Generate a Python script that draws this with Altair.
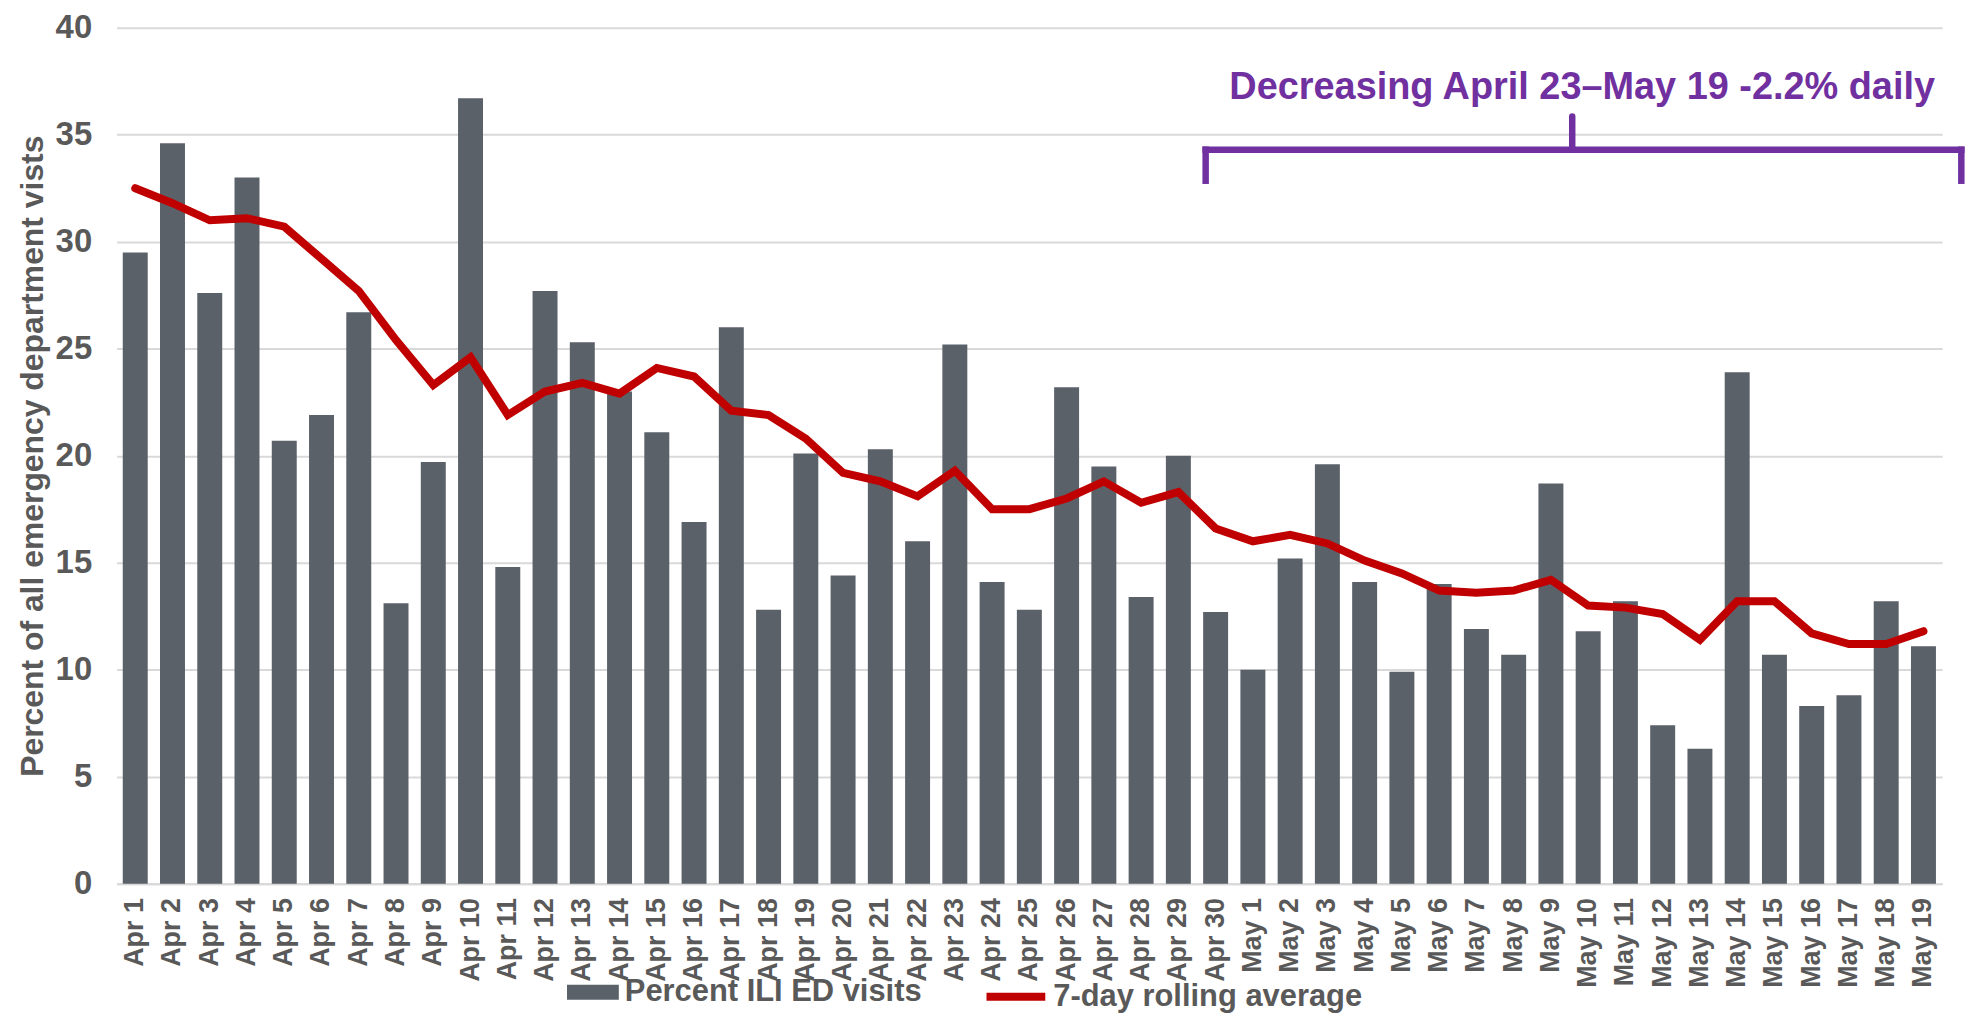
import altair as alt
import pandas as pd

dates = ["Apr 1", "Apr 2", "Apr 3", "Apr 4", "Apr 5", "Apr 6", "Apr 7", "Apr 8", "Apr 9", "Apr 10",
         "Apr 11", "Apr 12", "Apr 13", "Apr 14", "Apr 15", "Apr 16", "Apr 17", "Apr 18", "Apr 19", "Apr 20",
         "Apr 21", "Apr 22", "Apr 23", "Apr 24", "Apr 25", "Apr 26", "Apr 27", "Apr 28", "Apr 29", "Apr 30",
         "May 1", "May 2", "May 3", "May 4", "May 5", "May 6", "May 7", "May 8", "May 9", "May 10",
         "May 11", "May 12", "May 13", "May 14", "May 15", "May 16", "May 17", "May 18", "May 19"]

ili_pct = [29.5, 34.6, 27.6, 33.0, 20.7, 21.9, 26.7, 13.1, 19.7, 36.7,
           14.8, 27.7, 25.3, 23.0, 21.1, 16.9, 26.0, 12.8, 20.1, 14.4,
           20.3, 16.0, 25.2, 14.1, 12.8, 23.2, 19.5, 13.4, 20.0, 12.7,
           10.0, 15.2, 19.6, 14.1, 9.9, 14.0, 11.9, 10.7, 18.7, 11.8,
           13.2, 7.4, 6.3, 23.9, 10.7, 8.3, 8.8, 13.2, 11.1]

rolling_avg = [32.5, 31.8, 31.0, 31.1, 30.7, 29.2, 27.7, 25.4, 23.3, 24.6,
               21.9, 23.0, 23.4, 22.9, 24.1, 23.7, 22.1, 21.9, 20.8, 19.2,
               18.8, 18.1, 19.3, 17.5, 17.5, 18.0, 18.8, 17.8, 18.3, 16.6,
               16.0, 16.3, 15.9, 15.1, 14.5, 13.7, 13.6, 13.7, 14.2, 13.0,
               12.9, 12.6, 11.4, 13.2, 13.2, 11.7, 11.2, 11.2, 11.8]

bar_label = "Percent ILI ED visits"
line_label = "7-day rolling average"

annot_text = ["Decreasing April 23\u2013May 19 -2.2% daily"]
bracket_start = ["Apr 30"]
bracket_end = ["May 19"]
bracket_mid = ["May 10"]
bracket_y = [34.3]
tick_low = [32.85]
tick_high = [35.85]
label_y = [36.66]

FONT = "Liberation Sans"
TXT = "#595959"
BAR = "#5B6169"
RED = "#C00000"
PURPLE = "#7030A0"
GRID = "#D9D9D9"
YTITLE = "Percent of all emergency department vists"

df = pd.DataFrame({"date": dates, "ili": ili_pct, "avg": rolling_avg,
                   "s_bar": [bar_label] * len(dates), "s_line": [line_label] * len(dates)})

y_scale = alt.Scale(domain=[0, 40], nice=False)
x_scale = alt.Scale(domain=dates, paddingInner=0.33, paddingOuter=0.165)

x_axis = alt.Axis(title=None, labelAngle=270, labelFont=FONT, labelFontSize=27, labelFontWeight="bold",
                  labelColor=TXT, labelPadding=14, ticks=False, tickSize=0, domainColor=GRID,
                  domainWidth=2, labelOverlap=False)


def xcat(field, axis=None):
    if axis is None:
        return alt.X(f"{field}:N", scale=x_scale, title=None)
    return alt.X(f"{field}:N", scale=x_scale, title=None, axis=axis)


y_axis = alt.Axis(title=YTITLE, values=[0, 5, 10, 15, 20, 25, 30, 35, 40], grid=True, gridColor=GRID,
                  gridWidth=2, domain=False, ticks=False, tickSize=0, labelFont=FONT, labelFontSize=33,
                  labelFontWeight="bold", labelColor=TXT, labelPadding=25, titleFont=FONT,
                  titleFontSize=32, titleFontWeight="bold", titleColor=TXT, titlePadding=6)

bars = alt.Chart(df).mark_bar(strokeWidth=0).encode(
    x=xcat("date", x_axis),
    y=alt.Y("ili:Q", scale=y_scale, axis=y_axis, title=YTITLE),
    fill=alt.Fill("s_bar:N", scale=alt.Scale(domain=[bar_label], range=[BAR]),
                  legend=alt.Legend(title=None, orient="none", legendX=452, legendY=942,
                                    labelFont=FONT, labelFontSize=31, labelFontWeight="bold",
                                    labelColor=TXT, labelLimit=0, symbolType="M-1,-0.29H1V0.29H-1Z",
                                    symbolSize=2704, symbolStrokeWidth=0, labelOffset=6)),
)

line = alt.Chart(df).mark_line(strokeWidth=8, strokeCap="round").encode(
    x=xcat("date"),
    y=alt.Y("avg:Q", scale=y_scale, title=YTITLE),
    stroke=alt.Stroke("s_line:N", scale=alt.Scale(domain=[line_label], range=[RED]),
                      legend=alt.Legend(title=None, orient="none", legendX=869, legendY=939,
                                        labelFont=FONT, labelFontSize=31, labelFontWeight="bold",
                                        labelColor=TXT, labelLimit=0, symbolType="stroke",
                                        symbolSize=3481, symbolStrokeWidth=8, labelOffset=4)),
)

ann = pd.DataFrame({"x0": bracket_start, "x1": bracket_end, "xm": bracket_mid, "y": bracket_y,
                    "lo": tick_low, "hi": tick_high, "ty": label_y, "txt": annot_text})

horiz = alt.Chart(ann).mark_rule(color=PURPLE, strokeWidth=6.5, strokeCap="square",
                                 xOffset=-10, x2Offset=38).encode(
    x=xcat("x0"), x2="x1:N", y=alt.Y("y:Q", scale=y_scale, title=YTITLE))

left_tick = alt.Chart(ann).mark_rule(color=PURPLE, strokeWidth=6.5, strokeCap="square",
                                     xOffset=-10).encode(
    x=xcat("x0"), y=alt.Y("y:Q", scale=y_scale, title=YTITLE), y2="lo:Q")

right_tick = alt.Chart(ann).mark_rule(color=PURPLE, strokeWidth=6.5, strokeCap="square",
                                      xOffset=38).encode(
    x=xcat("x1"), y=alt.Y("y:Q", scale=y_scale, title=YTITLE), y2="lo:Q")

mid_tick = alt.Chart(ann).mark_rule(color=PURPLE, strokeWidth=6.5, strokeCap="round",
                                    xOffset=-16).encode(
    x=xcat("xm"), y=alt.Y("y:Q", scale=y_scale, title=YTITLE), y2="hi:Q")

label = alt.Chart(ann).mark_text(font=FONT, fontSize=38, fontWeight="bold", color=PURPLE,
                                 align="center", baseline="alphabetic", xOffset=-6).encode(
    x=xcat("xm"), y=alt.Y("ty:Q", scale=y_scale, title=YTITLE), text="txt:N")

chart = alt.layer(bars, line, horiz, left_tick, right_tick, mid_tick, label).resolve_scale(
    fill="independent", stroke="independent"
).properties(
    width=1832, height=859,
    padding={"left": 109, "top": 18, "right": 24, "bottom": 128},
    autosize=alt.AutoSizeParams(type="none"),
    background="white",
).configure_view(stroke=None)

chart.save("out.html", embed_options={"renderer": "svg", "actions": False})
